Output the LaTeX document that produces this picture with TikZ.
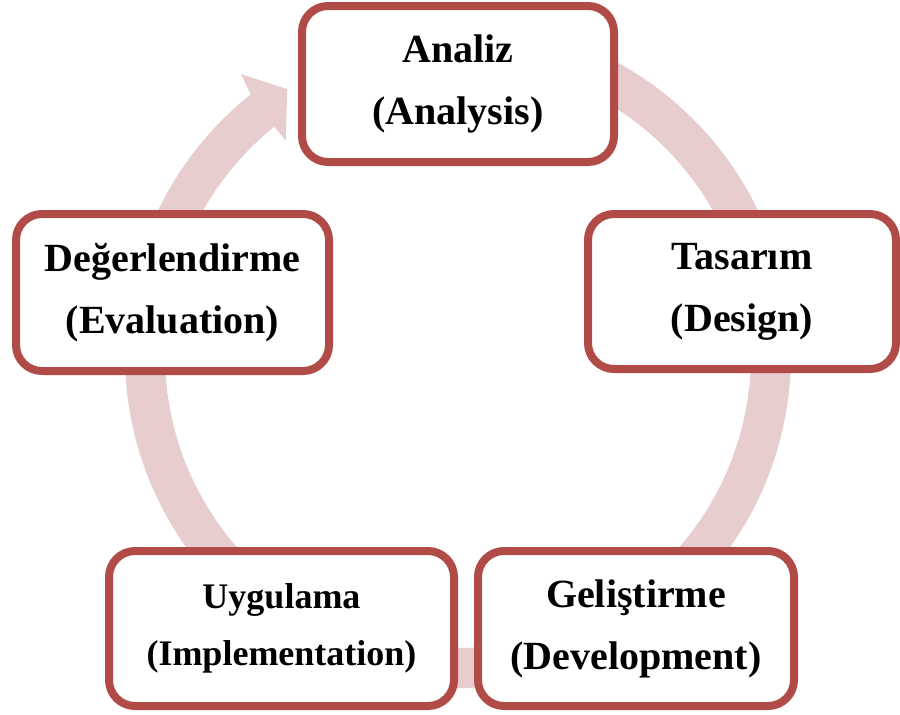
\documentclass[tikz,border=0pt]{standalone}
\usepackage{fontspec}
\setmainfont{Liberation Serif}
\usetikzlibrary{shadows}
\definecolor{boxred}{HTML}{B04B48}
\definecolor{bandpink}{HTML}{E7CDCE}
\begin{document}
\begin{tikzpicture}[x=1pt,y=-1pt,
  stagebox/.style={rectangle, rounded corners=26pt, draw=boxred, line width=8pt,
    fill=white, inner sep=0pt, align=center,
    font=\fontsize{40}{62}\selectfont\bfseries,
    drop shadow={shadow xshift=2pt, shadow yshift=-3pt, opacity=0.3}},
  band/.style={fill=bandpink}]
\fill[white] (0,0) rectangle (900,715);
\useasboundingbox (0,0) rectangle (900,715);
\coordinate (c) at (458,355);
\fill[band] ([shift={(c)}]280:333) arc[start angle=280, end angle=591.5, radius=333]
  -- ([shift={(c)}]592.3:355) -- ([shift={(c)}]597.3:316) -- ([shift={(c)}]591.2:275)
  -- ([shift={(c)}]591.2:293) arc[start angle=591.2, end angle=280, radius=293] -- cycle;
\node[stagebox, minimum width=312pt, minimum height=156pt] (ana) at (458,84) {Analiz\\(Analysis)};
\node[stagebox, minimum width=308pt, minimum height=155pt] (tas) at (742,291.5) {Tasarım\\(Design)};
\node[stagebox, minimum width=316pt, minimum height=155pt] (gel) at (636,628.5) {Geliştirme\\(Development)};
\node[stagebox, minimum width=345pt, minimum height=155pt, font=\fontsize{36}{57}\selectfont\bfseries] (uyg) at (281.5,628.5) {Uygulama\\(Implementation)};
\node[stagebox, minimum width=313pt, minimum height=157pt] (deg) at (172.5,292.5) {Değerlendirme\\(Evaluation)};
\end{tikzpicture}
\end{document}
